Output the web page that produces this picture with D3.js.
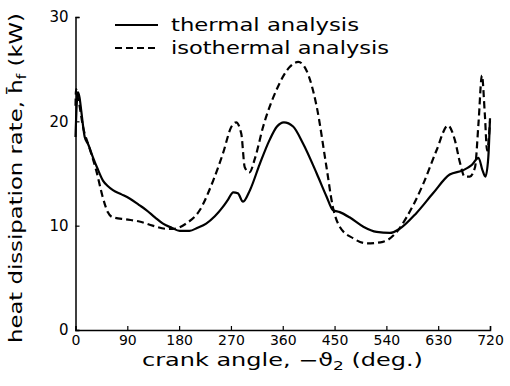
<!DOCTYPE html>
<html><head><meta charset="utf-8">
<script src="https://cdn.jsdelivr.net/npm/d3@7"></script>
<style>body{margin:0;background:#fff}svg{display:block}</style>
</head><body>
<script>
const xTicks = [0, 90, 180, 270, 360, 450, 540, 630, 720];
const yTicks = [0, 10, 20, 30];

const thermalAngle = [0, 2, 4, 7, 10, 16, 22, 30, 38, 48, 56, 65, 80, 94, 110, 123, 138, 152, 167, 181, 198, 212, 227, 242, 256, 265, 274, 282, 291, 303, 320, 337, 350, 362, 378, 395, 419, 436, 447, 459, 476, 500, 523, 546, 563, 592, 621, 650, 673, 688, 700, 707, 712, 717, 720];
const thermalValue = [18.5, 21.5, 22.8, 22.3, 21, 18.5, 17.8, 16.6, 15.5, 14.3, 13.8, 13.4, 13.0, 12.6, 12.0, 11.5, 10.8, 10.2, 9.8, 9.5, 9.5, 9.8, 10.2, 10.9, 11.8, 12.5, 13.2, 13.1, 12.3, 13.4, 15.9, 18.2, 19.5, 19.9, 19.5, 17.9, 15.0, 12.8, 11.5, 11.3, 10.8, 9.9, 9.4, 9.3, 9.7, 11.2, 13.1, 14.9, 15.3, 15.8, 16.5, 15.3, 14.7, 16.5, 20.3];

const isoAngle = [0, 1, 3, 6, 13, 24, 36, 47, 56, 65, 88, 111, 134, 158, 169, 192, 216, 239, 256, 271, 279, 288, 294, 302, 312, 326, 349, 372, 387, 401, 419, 436, 447, 459, 482, 506, 534, 558, 575, 604, 627, 647, 659, 668, 676, 685, 694, 700, 706, 711, 715, 720];
const isoValue = [21.5, 23.1, 22.5, 21.8, 19.5, 17.5, 15.3, 12.8, 11.3, 10.8, 10.6, 10.4, 10.0, 9.7, 9.7, 10.2, 11.5, 14.3, 16.9, 19.5, 19.9, 18.8, 15.6, 15.1, 16.5, 19.5, 23.0, 25.2, 25.7, 24.9, 21.4, 15.6, 11.8, 9.9, 8.8, 8.3, 8.45, 9.4, 10.8, 14.0, 17.2, 19.6, 18.2, 16.0, 14.7, 14.7, 15.6, 19.8, 24.4, 20.7, 17.2, 20.0];

const seriesNames = ["thermal analysis", "isothermal analysis"];

const W = 510, H = 386;
const svg = d3.select("body").append("svg").attr("width", W).attr("height", H);
const x = d3.scaleLinear().domain([0, 720]).range([75.5, 490]);
const y = d3.scaleLinear().domain([0, 30]).range([330, 17]);
const font = "DejaVu Sans, sans-serif";

// axes
const xAxis = svg.append("g").attr("transform", `translate(0,${y(0)})`)
  .call(d3.axisBottom(x).tickValues(xTicks).tickSize(-4).tickPadding(3).tickFormat(d3.format("d")));
const yAxis = svg.append("g").attr("transform", `translate(${x(0)},0)`)
  .call(d3.axisLeft(y).tickValues(yTicks).tickSize(-4).tickPadding(7).tickFormat(d3.format("d")));
[xAxis, yAxis].forEach(g => {
  g.select(".domain").attr("stroke", "#000").attr("stroke-width", 1.5);
  g.selectAll(".tick line").attr("stroke", "#000").attr("stroke-width", 1.2);
  g.selectAll(".tick text").attr("font-family", font).attr("font-size", 15).attr("fill", "#000");
});
xAxis.selectAll(".tick text").attr("font-size", 14).attr("dy", "0.85em");

// lines
const line = d3.line().x(d => x(d[0])).y(d => y(d[1])).curve(d3.curveMonotoneX);
const thermal = thermalAngle.map((a, i) => [a, thermalValue[i]]);
const iso = isoAngle.map((a, i) => [a, isoValue[i]]);
svg.append("path").attr("d", line(thermal)).attr("fill", "none").attr("stroke", "#000").attr("stroke-width", 2.2);
svg.append("path").attr("d", line(iso)).attr("fill", "none").attr("stroke", "#000").attr("stroke-width", 2.2).attr("stroke-dasharray", "7,4");

// legend
const leg = [{n: seriesNames[0], dash: null, yy: 25, len: 188}, {n: seriesNames[1], dash: "7,4", yy: 48, len: 218}];
leg.forEach(l => {
  svg.append("line").attr("x1", 115).attr("x2", 158).attr("y1", l.yy).attr("y2", l.yy)
    .attr("stroke", "#000").attr("stroke-width", 2.2).attr("stroke-dasharray", l.dash);
  svg.append("text").attr("x", 171).attr("y", l.yy + 6).attr("font-family", font).attr("font-size", 18)
    .attr("textLength", l.len).attr("lengthAdjust", "spacingAndGlyphs").text(l.n);
});

// x title
const xt = svg.append("text").attr("x", 142).attr("y", 366).attr("font-family", font).attr("font-size", 17)
  .attr("textLength", 281).attr("lengthAdjust", "spacingAndGlyphs");
xt.append("tspan").text("crank angle, −ϑ");
xt.append("tspan").attr("font-size", 12).attr("dy", 4).text("2");
xt.append("tspan").attr("dy", -4).text(" (deg.)");

// y title
const yt = svg.append("text").attr("transform", "translate(22,343) rotate(-90)")
  .attr("font-family", font).attr("font-size", 18).attr("textLength", 330).attr("lengthAdjust", "spacingAndGlyphs");
yt.append("tspan").text("heat dissipation rate, h\u0304");
yt.append("tspan").attr("font-size", 13).attr("dy", 4).text("f");
yt.append("tspan").attr("dy", -4).text(" (kW)");
</script>
</body></html>
